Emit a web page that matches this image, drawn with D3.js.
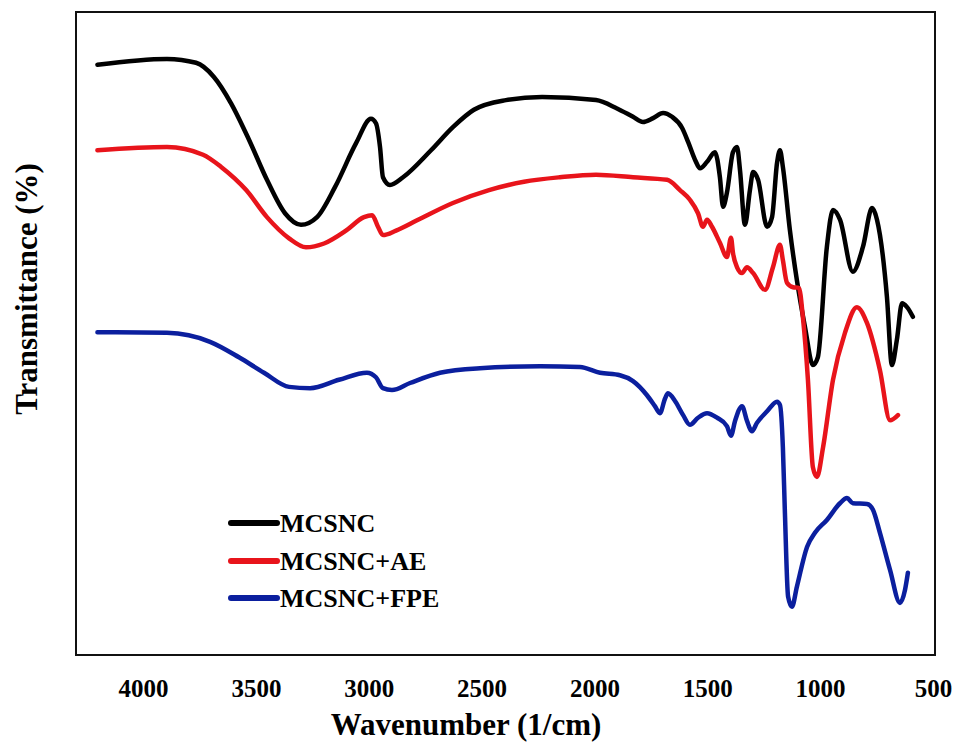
<!DOCTYPE html>
<html>
<head>
<meta charset="utf-8">
<script src="https://cdn.jsdelivr.net/npm/d3@7"></script>
<style>
  body { margin: 0; background: #fff; }
  text { font-family: "Liberation Serif", "Times New Roman", serif; font-weight: bold; fill: #000; }
</style>
</head>
<body>
<svg id="chart"></svg>
<script>
// FTIR spectra, wavenumber (1/cm) vs transmittance (arbitrary offset %)
const xTicks = [4000, 3500, 3000, 2500, 2000, 1500, 1000, 500];

const seriesNames = ["MCSNC", "MCSNC+AE", "MCSNC+FPE"];
const seriesColors = ["#000000", "#e8141b", "#0b1f9e"];

const mcsncWave = [4202, 3894, 3765, 3686, 3610, 3530, 3451, 3371, 3300, 3229, 3149, 3056, 2990, 2968, 2950, 2937,
  2906, 2848, 2724, 2627, 2534, 2392, 2232, 1993, 1900, 1829, 1785, 1740, 1696, 1656, 1612, 1585, 1554, 1532,
  1501, 1466, 1444, 1430, 1413, 1386, 1368, 1355, 1333, 1311, 1297, 1275, 1235, 1213, 1191, 1178, 1165, 1134,
  1103, 1067, 1032, 1010, 970, 943, 912, 855, 810, 770, 748, 704, 682, 660, 637, 615, 589];
const mcsncT = [91.8, 92.7, 92.1, 89.9, 85.8, 80.1, 73.9, 68.7, 66.9, 68.1, 72.8, 79.6, 83.4, 82.7, 79.0, 74.3,
  73.1, 74.3, 78.5, 82.1, 84.8, 86.3, 86.8, 86.3, 85.0, 83.7, 82.9, 83.5, 84.3, 83.7, 82.0, 79.8, 77.0, 75.7,
  76.7, 78.2, 74.3, 69.7, 71.9, 78.2, 79.0, 75.4, 66.9, 72.3, 75.1, 73.9, 66.6, 68.1, 76.5, 78.5, 75.9, 66.1,
  58.3, 51.0, 45.1, 46.3, 63.5, 69.2, 67.7, 59.6, 63.5, 69.5, 67.7, 55.7, 45.1, 49.0, 54.7, 54.1, 52.6];

const aeWave = [4202, 3894, 3734, 3654, 3543, 3451, 3353, 3278, 3198, 3101, 3021, 2985, 2959, 2937, 2879, 2786,
  2627, 2467, 2312, 2153, 1993, 1829, 1678, 1621, 1577, 1541, 1519, 1501, 1479, 1444, 1413, 1395, 1386, 1368,
  1346, 1324, 1297, 1244, 1209, 1178, 1165, 1147, 1120, 1094, 1076, 1054, 1032, 1014, 987, 943, 890, 837, 792,
  735, 690, 655];
const aeT = [78.5, 79.0, 77.8, 75.9, 72.3, 68.1, 64.8, 63.4, 64.0, 66.0, 68.1, 68.4, 66.6, 65.3, 66.0, 67.6,
  70.3, 72.3, 73.6, 74.3, 74.7, 74.3, 73.9, 72.3, 70.8, 68.7, 66.6, 67.7, 66.6, 64.1, 61.9, 64.9, 62.5, 60.3,
  59.4, 60.3, 59.4, 56.8, 60.3, 63.8, 61.4, 57.9, 57.2, 57.1, 52.4, 42.8, 29.2, 27.7, 32.3, 42.8, 50.1, 54.1, 51.6,
  44.3, 36.5, 37.3];

const fpeWave = [4202, 3894, 3703, 3575, 3464, 3353, 3260, 3132, 3008, 2968, 2937, 2897, 2817, 2684, 2507, 2241,
  2064, 1975, 1887, 1829, 1767, 1732, 1710, 1687, 1674, 1643, 1607, 1577, 1541, 1501, 1457, 1413, 1395, 1377,
  1346, 1324, 1302, 1280, 1235, 1191, 1178, 1165, 1156, 1142, 1125, 1103, 1058, 1023, 970, 912, 881, 855, 792,
  766, 735, 690, 646, 624, 611];
const fpeT = [50.2, 50.1, 48.7, 46.3, 43.9, 41.7, 41.5, 42.8, 43.9, 43.2, 41.5, 41.2, 42.3, 43.9, 44.6, 44.9,
  44.8, 43.9, 43.5, 42.6, 40.4, 38.7, 37.6, 39.9, 40.7, 39.5, 37.3, 35.8, 36.9, 37.6, 36.9, 35.6, 34.1, 36.4,
  38.7, 36.4, 34.8, 36.1, 37.9, 39.4, 38.9, 32.3, 22.1, 9.1, 7.5, 10.6, 16.8, 19.0, 21.0, 23.6, 24.4, 23.6, 23.5,
  22.6, 19.0, 13.2, 8.1, 10.1, 12.8];

const seriesWave = [mcsncWave, aeWave, fpeWave];
const seriesT = [mcsncT, aeT, fpeT];

const config = {
  width: 958,
  height: 742,
  margin: { top: 12, left: 76 },
  plotWidth: 859,
  plotHeight: 643
};

const svg = d3.select("#chart")
  .attr("width", config.width)
  .attr("height", config.height);

const g = svg.append("g")
  .attr("transform", `translate(${config.margin.left},${config.margin.top})`);

const xScale = d3.scaleLinear()
  .domain([4297, 491])
  .range([0, config.plotWidth]);

const yScale = d3.scaleLinear()
  .domain([0, 100])
  .range([config.plotHeight, 0]);

const line = d3.line()
  .x(d => xScale(d[0]))
  .y(d => yScale(d[1]))
  .curve(d3.curveMonotoneX);

// spectra
seriesNames.forEach((name, i) => {
  const pts = seriesWave[i].map((w, j) => [w, seriesT[i][j]]);
  g.append("path")
    .datum(pts)
    .attr("fill", "none")
    .attr("stroke", seriesColors[i])
    .attr("stroke-width", 4.5)
    .attr("stroke-linejoin", "round")
    .attr("stroke-linecap", "round")
    .attr("d", line);
});

// frame
g.append("rect")
  .attr("width", config.plotWidth)
  .attr("height", config.plotHeight)
  .attr("fill", "none")
  .attr("stroke", "#111")
  .attr("stroke-width", 2);

// x axis (labels only)
const xAxisG = g.append("g")
  .attr("transform", `translate(0,${config.plotHeight})`)
  .call(d3.axisBottom(xScale).tickValues(xTicks).tickSize(0).tickFormat(d3.format("d")));
xAxisG.select(".domain").remove();
xAxisG.selectAll("text")
  .attr("y", 42)
  .attr("dy", null)
  .style("font-family", "'Liberation Serif', 'Times New Roman', serif")
  .style("font-weight", "bold")
  .style("font-size", "25px")
  .attr("fill", "#000");

svg.append("text")
  .attr("x", 466)
  .attr("y", 735)
  .attr("text-anchor", "middle")
  .attr("font-size", "31px")
  .text("Wavenumber (1/cm)");

svg.append("text")
  .attr("transform", "translate(37,289) rotate(-90)")
  .attr("text-anchor", "middle")
  .attr("font-size", "31px")
  .text("Transmittance (%)");

// legend
const legendY = [523, 561, 598];
seriesNames.forEach((name, i) => {
  svg.append("line")
    .attr("x1", 231).attr("x2", 277)
    .attr("y1", legendY[i]).attr("y2", legendY[i])
    .attr("stroke", seriesColors[i])
    .attr("stroke-width", 6)
    .attr("stroke-linecap", "round");
  svg.append("text")
    .attr("x", 280)
    .attr("y", legendY[i] + 9)
    .attr("font-size", "26px")
    .text(name);
});
</script>
</body>
</html>
